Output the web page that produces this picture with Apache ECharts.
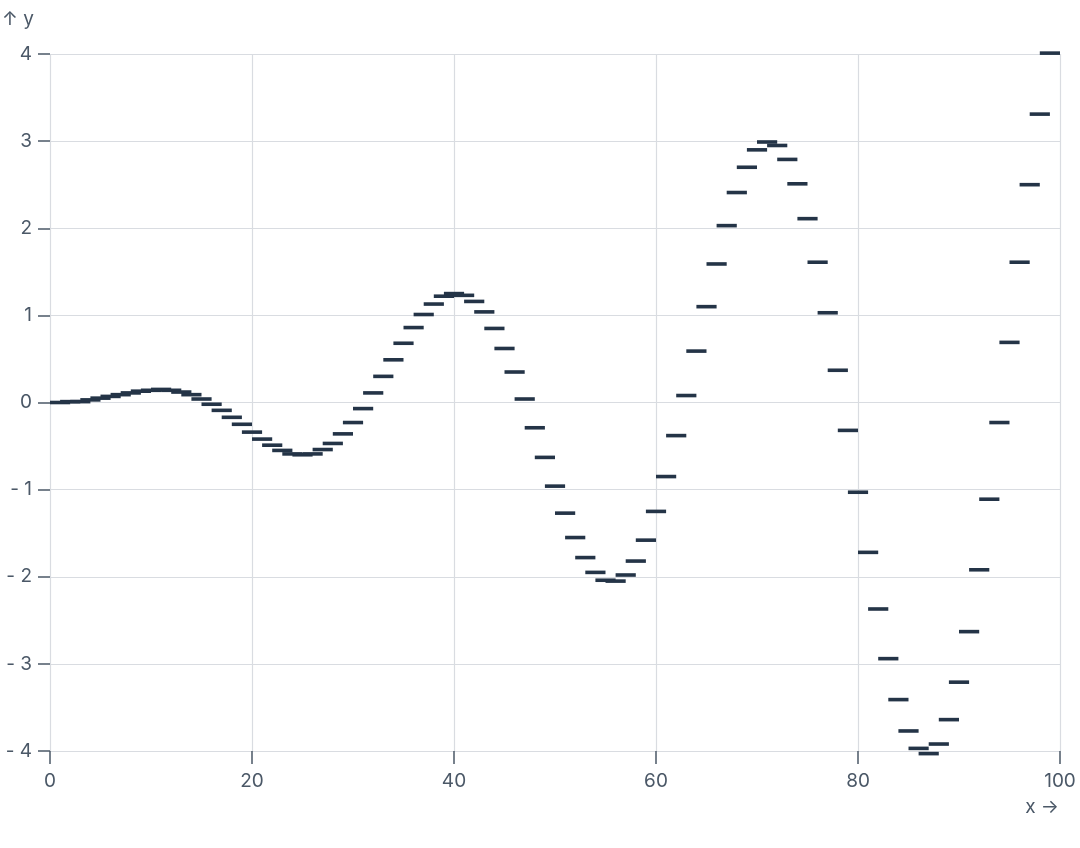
<!DOCTYPE html>
<html>
<head>
<meta charset="utf-8">
<script src="https://cdn.jsdelivr.net/npm/echarts@6/dist/echarts.min.js"></script>
<style>
  html, body { margin: 0; padding: 0; background: #fff; }
  #main { width: 1080px; height: 848px; }
</style>
</head>
<body>
<div id="main"></div>
<script>
// dash centres along x
var xs = [
  1, 2, 3, 4, 5, 6, 7, 8, 9, 10, 11, 12, 13, 14, 15, 16, 17, 18, 19, 20,
  21, 22, 23, 24, 25, 26, 27, 28, 29, 30, 31, 32, 33, 34, 35, 36, 37, 38, 39, 40,
  41, 42, 43, 44, 45, 46, 47, 48, 49, 50, 51, 52, 53, 54, 55, 56, 57, 58, 59, 60,
  61, 62, 63, 64, 65, 66, 67, 68, 69, 70, 71, 72, 73, 74, 75, 76, 77, 78, 79, 80,
  81, 82, 83, 84, 85, 86, 87, 88, 89, 90, 91, 92, 93, 94, 95, 96, 97, 98, 99
];
// dash heights
var ys = [
  0.00, 0.01, 0.01, 0.03, 0.05, 0.07, 0.09, 0.11, 0.13, 0.14,
  0.15, 0.14, 0.12, 0.09, 0.04, -0.02, -0.09, -0.17, -0.25, -0.34,
  -0.42, -0.49, -0.55, -0.59, -0.60, -0.59, -0.54, -0.47, -0.36, -0.23,
  -0.07, 0.11, 0.30, 0.49, 0.68, 0.86, 1.01, 1.13, 1.22, 1.25,
  1.23, 1.16, 1.04, 0.85, 0.62, 0.35, 0.04, -0.29, -0.63, -0.96,
  -1.27, -1.55, -1.78, -1.95, -2.04, -2.05, -1.98, -1.82, -1.58, -1.25,
  -0.85, -0.38, 0.08, 0.59, 1.10, 1.59, 2.03, 2.41, 2.70, 2.90,
  2.99, 2.95, 2.79, 2.51, 2.11, 1.61, 1.03, 0.37, -0.32, -1.03,
  -1.72, -2.37, -2.94, -3.41, -3.77, -3.97, -4.03, -3.92, -3.64, -3.21,
  -2.63, -1.92, -1.11, -0.23, 0.69, 1.61, 2.50, 3.31, 4.01
];
var xTicks = [0, 20, 40, 60, 80, 100];
var yTicks = [-4, -3, -2, -1, 0, 1, 2, 3, 4];

var textColor = '#4b5867';
var gridColor = '#d9dce1';
var markColor = '#243447';
var fontFamily = 'Inter, "Noto Sans", sans-serif';

var chart = echarts.init(document.getElementById('main'));

var points = xs.map(function (x, i) { return [x, ys[i]]; });

option = {
  animation: false,
  backgroundColor: '#ffffff',
  grid: { left: 50, right: 20, top: 54, bottom: 97 },
  xAxis: {
    type: 'value',
    min: 0,
    max: 100,
    interval: 20,
    axisLine: { show: false, onZero: false },
    axisTick: { show: true, length: 13, lineStyle: { color: textColor, width: 1.5 } },
    axisLabel: {
      color: textColor, fontSize: 19, fontFamily: fontFamily, margin: 21,
      formatter: function (v) { return xTicks.indexOf(v) >= 0 ? String(v) : ''; }
    },
    splitLine: { show: true, lineStyle: { color: gridColor, width: 1.2 } }
  },
  yAxis: {
    type: 'value',
    min: -4,
    max: 4,
    interval: 1,
    axisLine: { show: false, onZero: false },
    axisTick: { show: true, length: 12, lineStyle: { color: textColor, width: 1.5 } },
    axisLabel: {
      color: textColor, fontSize: 19, fontFamily: fontFamily, margin: 18,
      formatter: function (v) {
        if (yTicks.indexOf(v) < 0) return '';
        return v < 0 ? '- ' + Math.abs(v) : String(v);
      }
    },
    splitLine: { show: true, lineStyle: { color: gridColor, width: 1.2 } }
  },
  graphic: [
    {
      type: 'text', left: 2, top: 10,
      style: { text: '\u2191 y', fill: textColor, font: '19px ' + fontFamily }
    },
    {
      type: 'text', right: 21, top: 798,
      style: { text: 'x \u2192', fill: textColor, font: '19px ' + fontFamily }
    }
  ],
  series: [
    {
      type: 'custom',
      clip: false,
      data: points,
      renderItem: function (params, api) {
        var x = api.value(0);
        var y = api.value(1);
        var p0 = api.coord([x - 1, y]);
        var p1 = api.coord([x + 1, y]);
        var h = 3.6;
        return {
          type: 'rect',
          shape: { x: p0[0], y: p0[1] - h / 2, width: p1[0] - p0[0], height: h },
          style: { fill: markColor }
        };
      }
    }
  ]
};

chart.setOption(option);
</script>
</body>
</html>
